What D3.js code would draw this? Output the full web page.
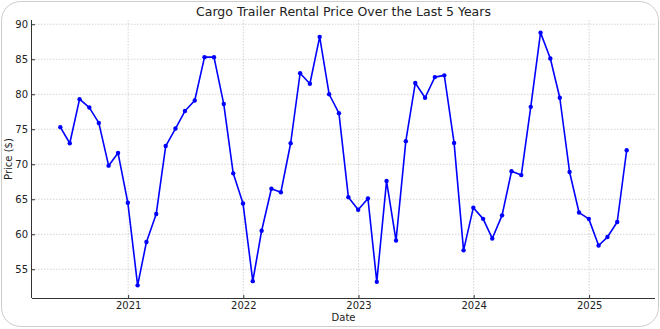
<!DOCTYPE html>
<html><head><meta charset="utf-8">
<script src="https://cdn.jsdelivr.net/npm/d3@7"></script>
<style>body{margin:0;background:#fff}svg{display:block}text{font-family:"DejaVu Sans",sans-serif}</style>
</head><body>
<svg id="c" width="660" height="329"></svg>
<script>
const startMonth = "2020-05";
const prices = [75.3,73.0,79.3,78.1,75.9,69.8,71.6,64.5,52.7,58.9,62.9,72.6,75.1,77.6,79.1,85.3,85.3,78.6,68.7,64.4,53.3,60.5,66.5,66.0,73.0,83.0,81.5,88.2,80.0,77.3,65.3,63.5,65.1,53.2,67.6,59.1,73.3,81.6,79.5,82.45,82.7,73.05,57.7,63.8,62.2,59.4,62.7,69.0,68.45,78.2,88.8,85.1,79.5,68.9,63.1,62.2,58.4,59.6,61.75,72.0];
const yTicks = [55,60,65,70,75,80,85,90];
const xTickYears = [2021,2022,2023,2024,2025];
const title = "Cargo Trailer Rental Price Over the Last 5 Years";
const xLabel = "Date", yLabel = "Price ($)";

// month-end dates
const p0 = d3.timeParse("%Y-%m")(startMonth);
const dates = prices.map((_, i) => new Date(p0.getFullYear(), p0.getMonth() + i + 1, 0));
const data = dates.map((d, i) => ({d, v: prices[i]}));

const svg = d3.select("#c");
svg.append("rect").attr("x",1.5).attr("y",1.5).attr("width",657).attr("height",325)
  .attr("rx",19).attr("fill","#fff").attr("stroke","#cccccc").attr("stroke-width",1);

const L = 32, R = 655, T = 20, B = 298;
const xe = d3.extent(dates), span = xe[1]-xe[0];
const x = d3.scaleTime().domain([new Date(+xe[0]-span*0.05), new Date(+xe[1]+span*0.05)]).range([L,R]);
const ye = d3.extent(prices), ys = ye[1]-ye[0];
const y = d3.scaleLinear().domain([ye[0]-ys*0.05, ye[1]+ys*0.05]).range([B,T]);

const g = svg.append("g");
// grid
g.selectAll(".hg").data(yTicks).join("line").attr("x1",L).attr("x2",R)
  .attr("y1",d=>y(d)).attr("y2",d=>y(d)).attr("stroke","#c8c8c8").attr("stroke-width",0.8).attr("stroke-dasharray","1.5,1.5");
const xTicks = xTickYears.map(yr => new Date(yr,0,1));
g.selectAll(".vg").data(xTicks).join("line").attr("y1",T).attr("y2",B)
  .attr("x1",d=>x(d)).attr("x2",d=>x(d)).attr("stroke","#c8c8c8").attr("stroke-width",0.8).attr("stroke-dasharray","1.5,1.5");

// axes
const ax = d3.axisBottom(x).tickValues(xTicks).tickFormat(d3.timeFormat("%Y")).tickSizeInner(-3).tickSizeOuter(0).tickPadding(4);
const ay = d3.axisLeft(y).tickValues(yTicks).tickSizeInner(-3).tickSizeOuter(0).tickPadding(4);
const gx = svg.append("g").attr("transform",`translate(0,${B})`).call(ax);
const gy = svg.append("g").attr("transform",`translate(${L},0)`).call(ay);
[gx,gy].forEach(a=>{
  a.select(".domain").attr("stroke","#333").attr("stroke-width",1);
  a.selectAll(".tick line").attr("stroke","#333");
  a.selectAll(".tick text").attr("font-size",10).attr("fill","#222").attr("font-family","DejaVu Sans");
});
gx.select(".domain").attr("d",`M${L},0.5H${R}`);
gy.select(".domain").attr("d",`M-0.5,${B}V${T}`);

// line
svg.append("path").datum(data).attr("fill","none").attr("stroke","#0000ff").attr("stroke-width",1.6)
  .attr("stroke-linejoin","round")
  .attr("d", d3.line().x(d=>x(d.d)).y(d=>y(d.v)));
svg.selectAll(".pt").data(data).join("circle").attr("cx",d=>x(d.d)).attr("cy",d=>y(d.v)).attr("r",2.2).attr("fill","#0000ff");

// labels
svg.append("text").attr("x",(L+R)/2).attr("y",16).attr("text-anchor","middle").attr("font-size",12.5).attr("fill","#222").text(title);
svg.append("text").attr("x",(L+R)/2).attr("y",321).attr("text-anchor","middle").attr("font-size",10).attr("fill","#222").text(xLabel);
svg.append("text").attr("transform",`translate(12,${(T+B)/2}) rotate(-90)`).attr("text-anchor","middle").attr("font-size",10).attr("fill","#222").text(yLabel);
</script>
</body></html>
